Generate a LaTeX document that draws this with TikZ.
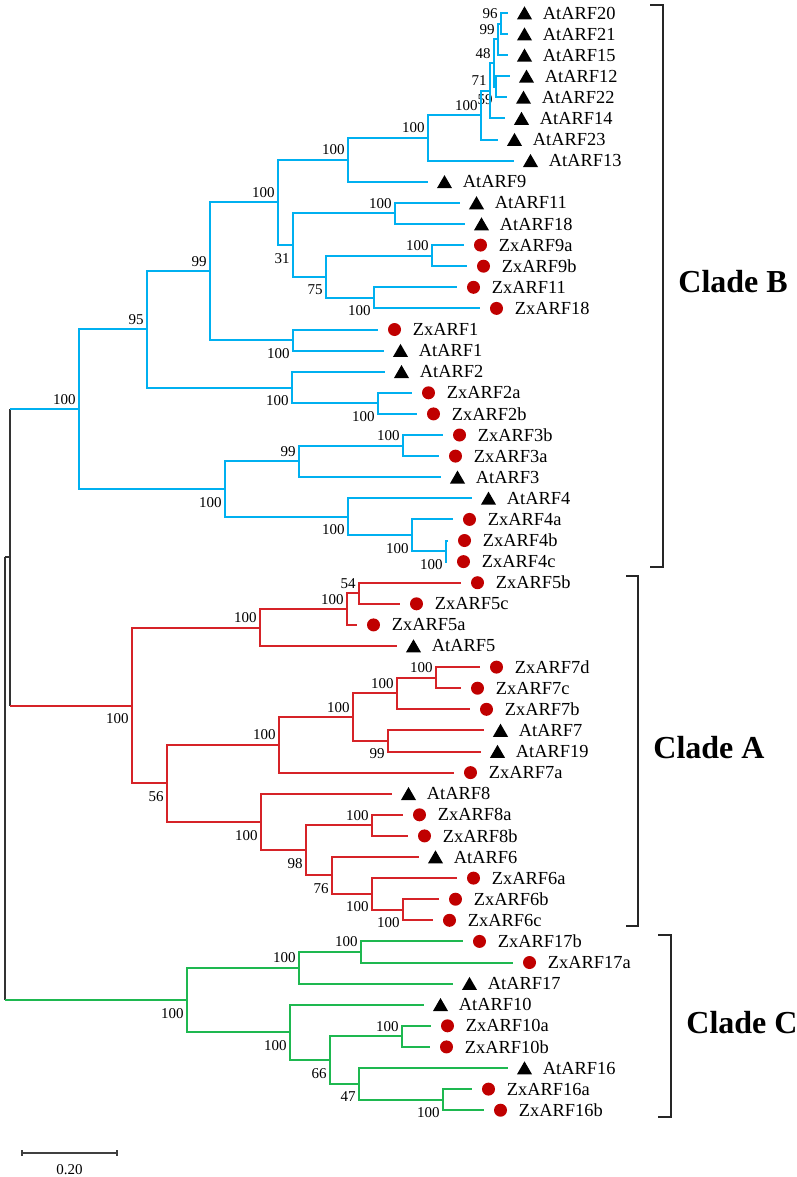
\documentclass[tikz,border=0pt]{standalone}
\usepackage{fontspec}
\setmainfont{Liberation Serif}
\usepackage{tikz}
\usetikzlibrary{calc, shapes.geometric}
\definecolor{cladeB}{RGB}{0,176,240}
\definecolor{cladeA}{RGB}{214,35,40}
\definecolor{cladeC}{RGB}{30,184,80}
\definecolor{zxred}{RGB}{192,0,0}
\def\rowTop{13}
\def\rowH{21.1}
\newcommand{\clade}[7]{%
% #1 = colour, #2 = node, #3 = x, #4/#5 = children, #6 = bootstrap, #7 = above/below
\coordinate (mid) at ($(#4)!.5!(#5)$);
\coordinate (xr) at (#3,0);
\coordinate (#2) at (mid -| xr);
\draw[branch, #1] (#2) |- (#4);
\draw[branch, #1] (#2) |- (#5);
\node[bs #7] (bs-#2) at (#2) {#6};
}

\begin{document}
\begin{tikzpicture}[
    x=0.5pt, y=-0.5pt,
    branch/.style={line width=1pt},
    rootline/.style={line width=1pt, black!80},
    bs above/.style={font=\fontsize{7.5}{8}\selectfont, inner sep=0, anchor=base east, xshift=-1.5pt, yshift=2.5pt},
    bs below/.style={font=\fontsize{7.5}{8}\selectfont, inner sep=0, anchor=base east, xshift=-1.5pt, yshift=-9pt},
    atmark/.style={regular polygon, regular polygon sides=3, fill=black, inner sep=0, minimum size=8.7pt, yshift=-1pt},
    zxmark/.style={circle, fill=zxred, inner sep=0, minimum size=6.5pt},
    leaf/.style={font=\fontsize{9.2}{10}\selectfont, inner sep=0, anchor=west},
    cladename/.style={font=\fontsize{16}{18}\selectfont\bfseries, inner sep=0, anchor=west},
    bracket/.style={line width=1pt, black!85}
]
\useasboundingbox (0,0) rectangle (797,1177);

% leaves: index / name / end of branch / marker
\foreach \i/\nm/\xe/\k in {
  0/AtARF20/508/atmark, 1/AtARF21/508/atmark, 2/AtARF15/508/atmark,
  3/AtARF12/510/atmark, 4/AtARF22/507/atmark, 5/AtARF14/505/atmark,
  6/AtARF23/498/atmark, 7/AtARF13/514/atmark, 8/AtARF9/428/atmark,
  9/AtARF11/460/atmark, 10/AtARF18/465/atmark, 11/ZxARF9a/464/zxmark,
  12/ZxARF9b/467/zxmark, 13/ZxARF11/457/zxmark, 14/ZxARF18/480/zxmark,
  15/ZxARF1/378/zxmark, 16/AtARF1/384/atmark, 17/AtARF2/385/atmark,
  18/ZxARF2a/412/zxmark, 19/ZxARF2b/417/zxmark, 20/ZxARF3b/443/zxmark,
  21/ZxARF3a/439/zxmark, 22/AtARF3/441/atmark, 23/AtARF4/472/atmark,
  24/ZxARF4a/453/zxmark, 25/ZxARF4b/448/zxmark, 26/ZxARF4c/447/zxmark,
  27/ZxARF5b/461/zxmark, 28/ZxARF5c/400/zxmark, 29/ZxARF5a/357/zxmark,
  30/AtARF5/397/atmark, 31/ZxARF7d/480/zxmark, 32/ZxARF7c/461/zxmark,
  33/ZxARF7b/470/zxmark, 34/AtARF7/484/atmark, 35/AtARF19/481/atmark,
  36/ZxARF7a/454/zxmark, 37/AtARF8/392/atmark, 38/ZxARF8a/403/zxmark,
  39/ZxARF8b/408/zxmark, 40/AtARF6/419/atmark, 41/ZxARF6a/457/zxmark,
  42/ZxARF6b/439/zxmark, 43/ZxARF6c/433/zxmark, 44/ZxARF17b/463/zxmark,
  45/ZxARF17a/513/zxmark, 46/AtARF17/453/atmark, 47/AtARF10/424/atmark,
  48/ZxARF10a/431/zxmark, 49/ZxARF10b/430/zxmark, 50/AtARF16/508/atmark,
  51/ZxARF16a/472/zxmark, 52/ZxARF16b/484/zxmark}{
  \coordinate (\nm) at (\xe, {\rowTop+\rowH*\i});
  \node[\k] (m-\nm) at ([xshift=8.25pt]\nm) {};
  \node[leaf] (t-\nm) at ([xshift=17.25pt]\nm) {\nm};
}

% Clade B
\clade{cladeB}{n96}{501}{AtARF20}{AtARF21}{96}{above}
\clade{cladeB}{n99a}{498}{n96}{AtARF15}{99}{above}
\clade{cladeB}{n59}{496}{AtARF12}{AtARF22}{59}{below}
\clade{cladeB}{n48}{494}{n99a}{n59}{48}{above}
\clade{cladeB}{n71}{490}{n48}{AtARF14}{71}{above}
\clade{cladeB}{b1}{481}{n71}{AtARF23}{100}{above}
\clade{cladeB}{b2}{428}{b1}{AtARF13}{100}{above}
\clade{cladeB}{b3}{348}{b2}{AtARF9}{100}{above}
\clade{cladeB}{b4}{395}{AtARF11}{AtARF18}{100}{above}
\clade{cladeB}{b5}{432}{ZxARF9a}{ZxARF9b}{100}{above}
\clade{cladeB}{b6}{374}{ZxARF11}{ZxARF18}{100}{below}
\clade{cladeB}{n75}{326}{b5}{b6}{75}{below}
\clade{cladeB}{n31}{293}{b4}{n75}{31}{below}
\clade{cladeB}{b7}{278}{b3}{n31}{100}{above}
\clade{cladeB}{b8}{293}{ZxARF1}{AtARF1}{100}{below}
\clade{cladeB}{n99b}{210}{b7}{b8}{99}{above}
\clade{cladeB}{b9}{378}{ZxARF2a}{ZxARF2b}{100}{below}
\clade{cladeB}{b10}{292}{AtARF2}{b9}{100}{below}
\clade{cladeB}{n95}{147}{n99b}{b10}{95}{above}
\clade{cladeB}{b11}{403}{ZxARF3b}{ZxARF3a}{100}{above}
\clade{cladeB}{n99c}{299}{b11}{AtARF3}{99}{above}
\clade{cladeB}{b12}{446}{ZxARF4b}{ZxARF4c}{100}{below}
\clade{cladeB}{b13}{412}{ZxARF4a}{b12}{100}{below}
\clade{cladeB}{b14}{348}{AtARF4}{b13}{100}{below}
\clade{cladeB}{b15}{225}{n99c}{b14}{100}{below}
\clade{cladeB}{cB}{79}{n95}{b15}{100}{above}

% Clade A
\clade{cladeA}{n54}{359}{ZxARF5b}{ZxARF5c}{54}{above}
\clade{cladeA}{a1}{347}{n54}{ZxARF5a}{100}{above}
\clade{cladeA}{a2}{260}{a1}{AtARF5}{100}{above}
\clade{cladeA}{a3}{436}{ZxARF7d}{ZxARF7c}{100}{above}
\clade{cladeA}{a4}{397}{a3}{ZxARF7b}{100}{above}
\clade{cladeA}{n99d}{388}{AtARF7}{AtARF19}{99}{below}
\clade{cladeA}{a5}{353}{a4}{n99d}{100}{above}
\clade{cladeA}{a6}{279}{a5}{ZxARF7a}{100}{above}
\clade{cladeA}{a7}{372}{ZxARF8a}{ZxARF8b}{100}{above}
\clade{cladeA}{a8}{403}{ZxARF6b}{ZxARF6c}{100}{below}
\clade{cladeA}{a9}{372}{ZxARF6a}{a8}{100}{below}
\clade{cladeA}{n76}{332}{AtARF6}{a9}{76}{below}
\clade{cladeA}{n98}{306}{a7}{n76}{98}{below}
\clade{cladeA}{a10}{261}{AtARF8}{n98}{100}{below}
\clade{cladeA}{n56}{167}{a6}{a10}{56}{below}
\clade{cladeA}{cA}{132}{a2}{n56}{100}{below}

% Clade C
\clade{cladeC}{c1}{361}{ZxARF17b}{ZxARF17a}{100}{above}
\clade{cladeC}{c2}{299}{c1}{AtARF17}{100}{above}
\clade{cladeC}{c3}{402}{ZxARF10a}{ZxARF10b}{100}{above}
\clade{cladeC}{c4}{443}{ZxARF16a}{ZxARF16b}{100}{below}
\clade{cladeC}{n47}{359}{AtARF16}{c4}{47}{below}
\clade{cladeC}{n66}{330}{c3}{n47}{66}{below}
\clade{cladeC}{c5}{290}{AtARF10}{n66}{100}{below}
\clade{cladeC}{cC}{187}{c2}{c5}{100}{below}

% root
\coordinate (mid) at ($(cB)!.5!(cA)$);
\coordinate (xr) at (10,0);
\coordinate (nAB) at (mid -| xr);
\coordinate (mid) at ($(nAB)!.5!(cC)$);
\coordinate (xr) at (5,0);
\coordinate (root) at (mid -| xr);
\draw[rootline] (cB -| nAB) -- (cA -| nAB);
\draw[rootline] (nAB -| root) -- (cC -| root);
\draw[rootline] (nAB -| root) -- (nAB);
\draw[branch, cladeB] (cB -| nAB) -- (cB);
\draw[branch, cladeA] (cA -| nAB) -- (cA);
\draw[branch, cladeC] (cC -| root) -- (cC);

% brackets
\coordinate (kB1) at (650,5);   \coordinate (kB2) at (663,5);
\coordinate (kB3) at (663,567); \coordinate (kB4) at (650,567);
\coordinate (kA1) at (626,576); \coordinate (kA2) at (638,576);
\coordinate (kA3) at (638,926); \coordinate (kA4) at (626,926);
\coordinate (kC1) at (658,935); \coordinate (kC2) at (671,935);
\coordinate (kC3) at (671,1117); \coordinate (kC4) at (658,1117);
\draw[bracket] (kB1) -- (kB2) -- (kB3) -- (kB4);
\draw[bracket] (kA1) -- (kA2) -- (kA3) -- (kA4);
\draw[bracket] (kC1) -- (kC2) -- (kC3) -- (kC4);
\node[cladename] (lB) at (678,282) {Clade B};
\node[cladename] (lA) at (653,748) {Clade A};
\node[cladename] (lC) at (686,1023) {Clade C};

% scale bar
\coordinate (sb1) at (22,1153);
\coordinate (sb2) at (117,1153);
\draw[line width=0.7pt, black!75] (sb1) -- (sb2);
\draw[line width=0.7pt, black!75] ([yshift=1.5pt]sb1) -- ([yshift=-1.5pt]sb1);
\draw[line width=0.7pt, black!75] ([yshift=1.5pt]sb2) -- ([yshift=-1.5pt]sb2);
\node[font=\fontsize{7.5}{8}\selectfont, inner sep=0] (sbl) at (69.5,1170) {0.20};
\end{tikzpicture}
\end{document}
